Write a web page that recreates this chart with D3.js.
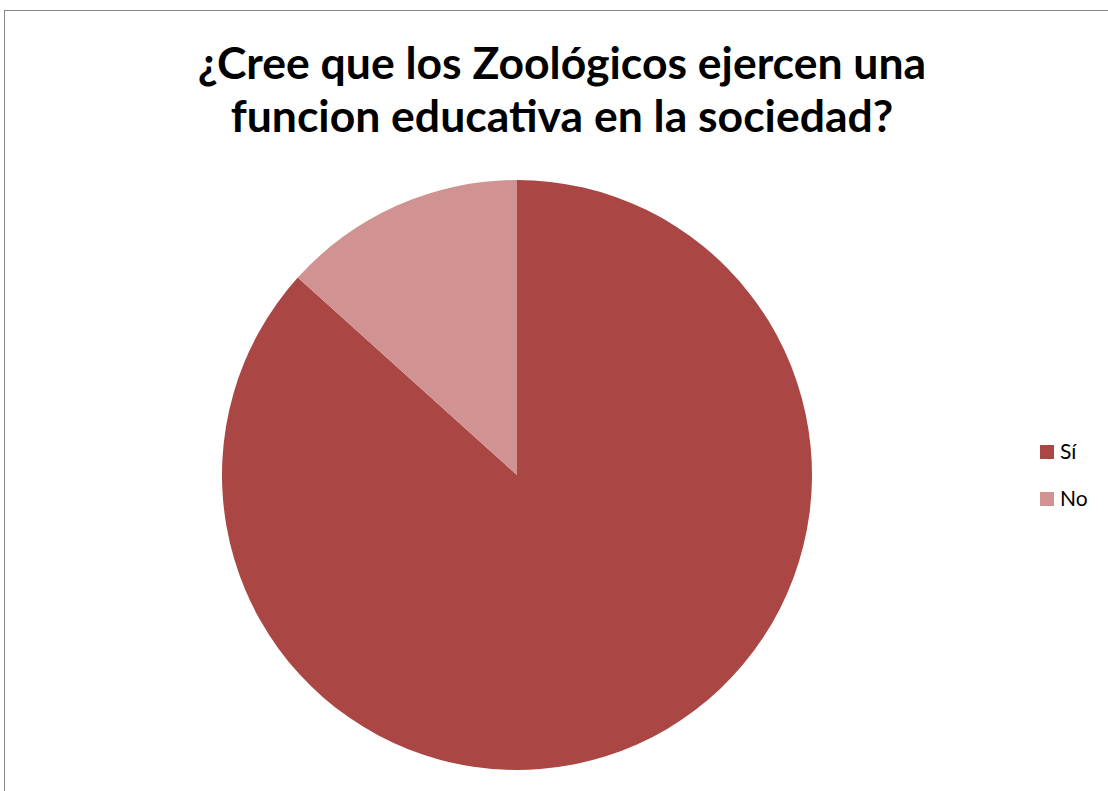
<!DOCTYPE html>
<html><head><meta charset="utf-8">
<script src="https://cdn.jsdelivr.net/npm/d3@7"></script>
<style>body{margin:0;background:#fff}svg{display:block}</style>
</head><body>
<svg id="c" width="1108" height="791"></svg>
<script>
const categories = ["Sí", "No"];
const values = [26, 4];
const colors = ["#AA4643", "#D19392"];
const titleLines = ["¿Cree que los Zoológicos ejercen una", "funcion educativa en la sociedad?"];

const svg = d3.select("#c");
svg.append("rect").attr("x", 4.5).attr("y", 10.5).attr("width", 1120).attr("height", 800)
  .attr("fill", "#fff").attr("stroke", "#868686").attr("stroke-width", 1);

svg.append("text").attr("text-anchor", "middle").attr("font-family", "Lato, 'Open Sans', sans-serif")
  .attr("font-weight", "bold").attr("font-size", 44.5).attr("fill", "#000")
  .selectAll("tspan").data(titleLines).join("tspan")
  .attr("x", 562).attr("y", (d, i) => 79 + i * 53).text(d => d);

const cx = 517, cy = 475, r = 295;
const pie = d3.pie().sort(null).value(d => d.v);
const arcs = pie(categories.map((c, i) => ({c, v: values[i]})));
const arc = d3.arc().innerRadius(0).outerRadius(r);
svg.append("g").attr("transform", `translate(${cx},${cy})`)
  .selectAll("path").data(arcs).join("path")
  .attr("d", arc).attr("fill", (d, i) => colors[i]);

const leg = svg.append("g").selectAll("g").data(categories).join("g")
  .attr("transform", (d, i) => `translate(1040,${445 + i * 47})`);
leg.append("rect").attr("width", 14).attr("height", 14).attr("fill", (d, i) => colors[i]);
leg.append("text").attr("x", 20).attr("y", 14).attr("font-family", "Lato, 'Open Sans', sans-serif")
  .attr("font-size", 21).attr("fill", "#000").text(d => d);
</script>
</body></html>
